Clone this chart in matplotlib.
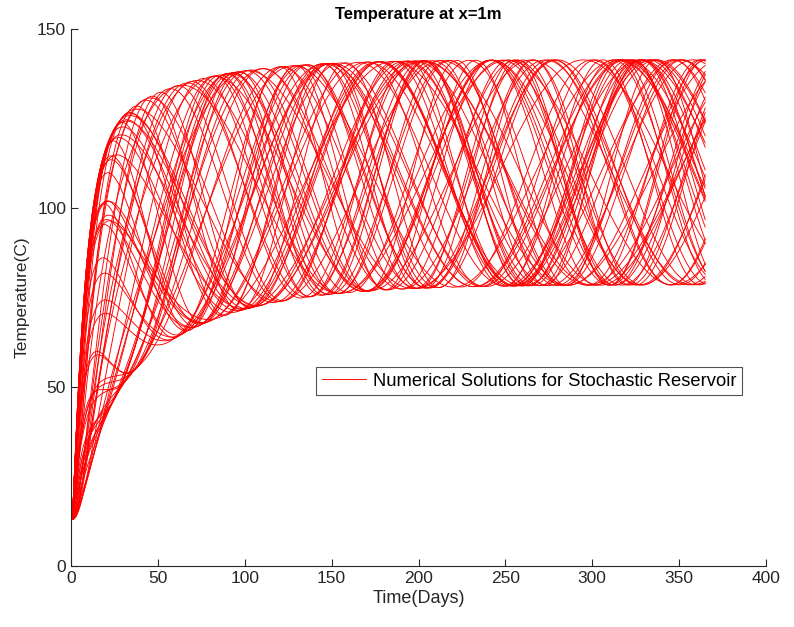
import numpy as np
import matplotlib
matplotlib.use("Agg")
import matplotlib.pyplot as plt

# ---- data ----
t_end = 365.0
T_initial = 13.0
T_mean_final = 110.0          # centre of the final band (78..141)
mean_deficit = 37.0           # centre lag, decays with ~50 day scale
amp_final = 31.4              # half width of final band
amp_extra = 6.0               # extra early half width
# per-realisation oscillation periods (days) and time of first crest (days)
periods = [104, 187, 131, 158, 112, 176, 143, 122, 195, 137, 150, 108, 168, 127, 183, 116,
           146, 161, 133, 200, 119, 154, 140, 172, 110, 129, 191, 148, 124, 164, 106, 180,
           135, 157, 114, 197, 142, 126, 170, 152, 118, 185, 138, 160, 102, 175, 130, 166,
           145, 120, 178, 134, 163, 111, 189, 151]
crest_times = [25, -60, 40, 90, -30, 22, 65, 8, 100, -45, 28, 50, -20, 75, 30, -20,
               110, 15, 55, -15, 85, 24, -5, 70, 35, -40, 60, 95, 12, -55, 45, -10,
               82, 20, -25, 5, 100, 60, -5, 42, 30, 80, -35, 120, 18, -30, 68, 26,
               -12, 2, -28, 10, -8, -18, 14, -2]

title = "Temperature at x=1m"
xlabel = "Time(Days)"
ylabel = "Temperature(C)"
legend_label = "Numerical Solutions for Stochastic Reservoir"
xticks = [0, 50, 100, 150, 200, 250, 300, 350, 400]
yticks = [0, 50, 100, 150]

plt.rcParams['font.family'] = ['Liberation Sans', 'DejaVu Sans']

fig = plt.figure(figsize=(7.94, 6.27), dpi=100)
ax = fig.add_axes([71/794, 61/627, 695/794, 537/627])

t = np.linspace(0, t_end, 2921)
tt = np.clip(t - 0.8, 0, None)
rise_mean = 1 - np.exp(-(tt / 8.5) ** 1.1)
rise_osc = 1 - np.exp(-(tt / 6.0) ** 1.1)
centre = T_mean_final - mean_deficit * np.exp(-t / 50.0)
half = amp_final + amp_extra * np.exp(-(t - 32.0) / 60.0)

first = True
for P, tc in zip(periods, crest_times):
    osc = np.cos(2 * np.pi * (t - tc) / P)
    T = T_initial + (centre - T_initial) * rise_mean + half * osc * rise_osc
    ax.plot(t, T, color='#ff0000', lw=0.65,
            label=legend_label if first else None)
    first = False

ax.set_xlim(0, 400)
ax.set_ylim(0, 150)
ax.set_xticks(xticks)
ax.set_yticks(yticks)
for s in ['top', 'right']:
    ax.spines[s].set_visible(False)
for s in ['left', 'bottom']:
    ax.spines[s].set_color('#262626')
    ax.spines[s].set_linewidth(0.8)
ax.tick_params(direction='in', length=5, width=0.8, colors='#262626', labelsize=12.5)
ax.set_title(title, fontsize=12, fontweight='bold', color='black', pad=7)
ax.set_xlabel(xlabel, fontsize=13, color='#262626', labelpad=3)
ax.set_ylabel(ylabel, fontsize=12.5, color='#262626', labelpad=5)

leg = ax.legend(loc='upper left', bbox_to_anchor=((316-71)/695, (566-367)/537),
                fontsize=13.2, frameon=True, fancybox=False, handlelength=2.4,
                borderpad=0.3, handletextpad=0.4, borderaxespad=0)
leg.get_frame().set_edgecolor('#262626')
leg.get_frame().set_linewidth(0.8)

fig.savefig("out.png", dpi=100)
